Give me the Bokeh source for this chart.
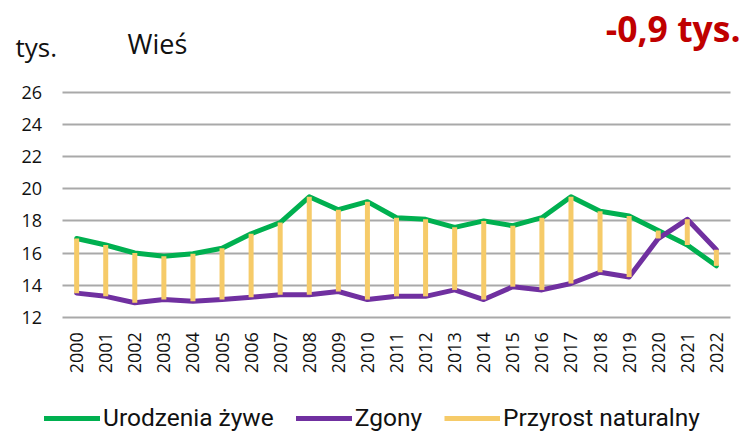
from math import pi
from bokeh.plotting import figure
from bokeh.models import (Range1d, FixedTicker, Label, Legend, LegendItem,
                          LinearAxis, Grid)
from bokeh.embed import file_html
from bokeh.resources import INLINE

years = ["2000", "2001", "2002", "2003", "2004", "2005", "2006", "2007", "2008", "2009",
         "2010", "2011", "2012", "2013", "2014", "2015", "2016", "2017", "2018", "2019",
         "2020", "2021", "2022"]
urodzenia = [16.9, 16.5, 16.0, 15.8, 15.95, 16.3, 17.2, 17.9, 19.5, 18.7,
             19.2, 18.2, 18.1, 17.6, 18.0, 17.7, 18.2, 19.5, 18.6, 18.3,
             17.4, 16.5, 15.2]
zgony = [13.5, 13.3, 12.9, 13.1, 13.0, 13.1, 13.25, 13.4, 13.4, 13.6,
         13.1, 13.3, 13.3, 13.7, 13.1, 13.9, 13.7, 14.1, 14.8, 14.5,
         16.9, 18.1, 16.2]
y_ticks = [12, 14, 16, 18, 20, 22, 24, 26]
series_names = ["Urodzenia żywe", "Zgony", "Przyrost naturalny"]

GREEN = "#00B050"
PURPLE = "#7030A0"
YELLOW = "#F6CB69"
GRID = "#A9A9A9"
FONT = "Open Sans"
TXT = "#111111"

W, H = 741, 433
n = len(years)
# plot-area geometry in canvas pixels (layout only)
PX_LEFT, PX_RIGHT = 61.6, 730.4       # category band edges
PX_TOP_VAL, PX_BOT_VAL = 92.0, 316.7  # pixel rows of the top / bottom y tick
ymin_t, ymax_t = y_ticks[0], y_ticks[-1]
step = (PX_RIGHT - PX_LEFT) / n
ppu = (PX_BOT_VAL - PX_TOP_VAL) / (ymax_t - ymin_t)


def dx(px):
    return -0.5 + (px - PX_LEFT) / step


def dy(py):
    return ymax_t - (py - PX_TOP_VAL) / ppu


p = figure(width=W, height=H, output_backend="svg", toolbar_location=None,
           x_axis_type=None, y_axis_type=None,
           x_range=Range1d(dx(0), dx(W)), y_range=Range1d(dy(H), dy(0)),
           min_border_left=0, min_border_right=0, min_border_top=0, min_border_bottom=0)
p.outline_line_color = None

# grid lines, limited to the category band
grid = Grid(dimension=1, ticker=FixedTicker(ticks=y_ticks),
            grid_line_color=GRID, grid_line_width=2)
try:
    grid.cross_bounds = (-0.5, n - 0.5)
    p.add_layout(grid)
except AttributeError:
    p.segment(x0=[-0.5] * len(y_ticks), y0=y_ticks, x1=[n - 0.5] * len(y_ticks), y1=y_ticks,
              line_color=GRID, line_width=2)

idx = list(range(n))
lo = [min(a, b) for a, b in zip(urodzenia, zgony)]
hi = [max(a, b) for a, b in zip(urodzenia, zgony)]

r_g = p.line(idx, urodzenia, line_color=GREEN, line_width=5, line_join="round", line_cap="round")
r_p = p.line(idx, zgony, line_color=PURPLE, line_width=5, line_join="round", line_cap="round")
r_y = p.segment(x0=idx, y0=lo, x1=idx, y1=hi, line_color=YELLOW, line_width=5, line_cap="butt")

# axes drawn at fixed positions
yaxis = LinearAxis(fixed_location=-0.5, ticker=FixedTicker(ticks=y_ticks),
                   major_label_standoff=20)
xaxis = LinearAxis(fixed_location=ymin_t, ticker=FixedTicker(ticks=idx),
                   major_label_overrides={i: y for i, y in zip(idx, years)},
                   major_label_orientation=pi / 2, major_label_standoff=15)
for ax in (xaxis, yaxis):
    ax.axis_line_color = None
    ax.major_tick_line_color = None
    ax.minor_tick_line_color = None
    ax.major_tick_out = 0
    ax.major_tick_in = 0
    ax.minor_tick_out = 0
    ax.minor_tick_in = 0
    ax.major_label_text_font = FONT
    ax.major_label_text_font_size = "18px"
    ax.major_label_text_color = TXT
p.add_layout(yaxis, "left")
p.add_layout(xaxis, "below")

# texts
p.add_layout(Label(x=dx(15), y=dy(46), text="tys.", text_font=FONT, text_font_size="26px",
                   text_color=TXT, text_baseline="alphabetic"))
p.add_layout(Label(x=dx(127), y=dy(43), text="Wieś", text_font=FONT, text_font_size="27px",
                   text_color=TXT, text_baseline="alphabetic"))
p.add_layout(Label(x=dx(740), y=dy(27), text="-0,9 tys.", text_font=FONT, text_font_size="35.5px",
                   text_font_style="bold", text_color="#C00000", text_align="right",
                   text_baseline="alphabetic"))

legend = Legend(items=[LegendItem(label=nm, renderers=[r]) for nm, r in
                       zip(series_names, (r_g, r_p, r_y))],
                location=(44, 1), orientation="horizontal",
                glyph_width=56, glyph_height=20, label_standoff=3, spacing=22,
                padding=0, margin=0, border_line_alpha=0, background_fill_alpha=0,
                label_text_font="Roboto", label_text_font_size="24.5px",
                label_text_color=TXT)
p.add_layout(legend)

open("out.html", "w").write(file_html(p, INLINE))
